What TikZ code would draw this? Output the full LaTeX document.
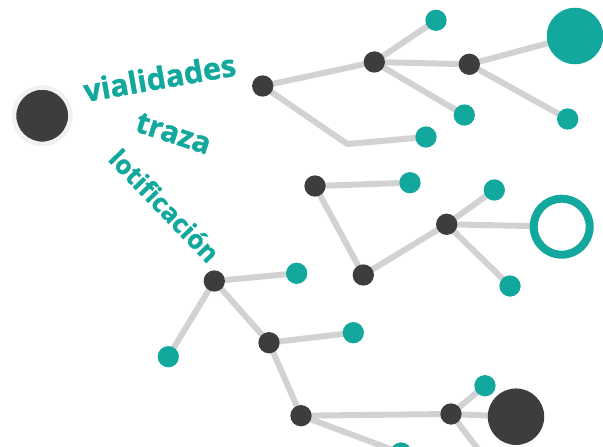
\documentclass[tikz,border=0pt]{standalone}
\usepackage{fontspec}
\setmainfont{Open Sans}
\newfontfamily\labfont[FakeBold=1.2]{Open Sans Bold}
\usetikzlibrary{backgrounds}
\definecolor{teal1}{HTML}{12A89D}
\definecolor{dark1}{HTML}{3D3D3D}
\definecolor{edge1}{HTML}{D2D2D4}
\definecolor{halo1}{HTML}{F0F1F3}
\tikzset{
  dk/.style={circle, fill=dark1, inner sep=0pt, minimum size=21.3pt},
  tl/.style={circle, fill=teal1, inner sep=0pt, minimum size=21.3pt},
  bigtl/.style={circle, fill=teal1, inner sep=0pt, minimum size=56.5pt},
  bigdk/.style={circle, fill=dark1, inner sep=0pt, minimum size=56.5pt},
  ringtl/.style={circle, draw=teal1, fill=white, line width=8pt, inner sep=0pt, minimum size=56pt},
  halo/.style={circle, fill=dark1, draw=halo1, line width=4.6pt, inner sep=0pt, minimum size=56.5pt},
  conn/.style={draw=edge1, line width=6pt},
  lab/.style={text=teal1, font=\labfont, inner sep=0pt}
}
\begin{document}
\begin{tikzpicture}[x=1pt,y=-1pt]
\useasboundingbox (0,0) rectangle (603,447);
% left big
\node[halo] (L) at (42.2,115.7) {};
% labels
\node[lab, font=\labfont\fontsize{30.5}{32}\selectfont, rotate=10] (t1) at (159.5,77.5) {vialidades};
\node[lab, font=\labfont\fontsize{30}{32}\selectfont, rotate=-18] (t2) at (173.5,133.5) {traza};
\node[lab, font=\labfont\fontsize{26}{28}\selectfont, rotate=-46] (t3) at (164.5,205.5) {lotificación};
% top group
\node[dk] (A) at (262.7,86) {};
\node[dk] (B) at (374.3,62) {};
\node[dk] (C) at (469.3,64.3) {};
\node[tl] (T1) at (436,20.3) {};
\node[bigtl] (BT) at (575,36) {};
\node[tl] (T2) at (464.3,115) {};
\node[tl] (T3) at (567.7,119) {};
\node[tl] (T4) at (426,137) {};
\coordinate (bend) at (347.3,144);
% middle group
\node[dk] (D) at (315,186) {};
\node[tl] (T5) at (410,182.7) {};
\node[dk] (E) at (363.3,275) {};
\node[dk] (F) at (446.7,224.3) {};
\node[tl] (T6) at (494.3,190) {};
\node[ringtl] (R) at (561.7,226.7) {};
\node[tl] (T7) at (510,286) {};
% bottom group
\node[dk] (G) at (214.3,281) {};
\node[tl] (T8) at (296.7,273.3) {};
\node[tl] (T9) at (168.3,356.7) {};
\node[dk] (H) at (269,342.7) {};
\node[tl] (T10) at (353.3,332.7) {};
\node[dk] (I) at (301,415.7) {};
\node[dk] (J) at (451,414) {};
\node[tl] (T11) at (485,385.7) {};
\node[bigdk] (BD) at (516,416.7) {};
\node[tl] (T12) at (401,453) {};
\coordinate (off) at (492,467);
\begin{scope}[on background layer]
\draw[conn] (A.center) -- (B.center);
\draw[conn] (A.center) -- (bend) -- (T4.center);
\draw[conn] (B.center) -- (T1.center);
\draw[conn] (B.center) -- (C.center);
\draw[conn] (B.center) -- (T2.center);
\draw[conn] (C.center) -- (BT.center);
\draw[conn] (C.center) -- (T3.center);
\draw[conn] (D.center) -- (T5.center);
\draw[conn] (D.center) -- (E.center);
\draw[conn] (E.center) -- (F.center);
\draw[conn] (F.center) -- (T6.center);
\draw[conn] (F.center) -- (R.center);
\draw[conn] (F.center) -- (T7.center);
\draw[conn] (G.center) -- (T8.center);
\draw[conn] (G.center) -- (T9.center);
\draw[conn] (G.center) -- (H.center);
\draw[conn] (H.center) -- (T10.center);
\draw[conn] (H.center) -- (I.center);
\draw[conn] (I.center) -- (J.center);
\draw[conn] (I.center) -- (T12.center);
\draw[conn] (J.center) -- (T11.center);
\draw[conn] (J.center) -- (BD.center);
\draw[conn] (J.center) -- (off);
\end{scope}
\end{tikzpicture}
\end{document}
